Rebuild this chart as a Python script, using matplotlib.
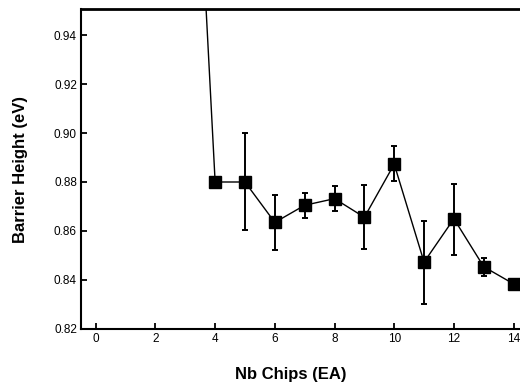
# Barrier height vs number of Nb chips, with error bars

import matplotlib.pyplot as plt

plt.rcParams['font.family'] = ['Liberation Sans', 'DejaVu Sans']

nb_chips = [3, 4, 5, 6, 7, 8, 9, 10, 11, 12, 13, 14]
barrier_height = [1.113, 0.880, 0.880, 0.8635, 0.8705, 0.8732, 0.8656, 0.8873, 0.8473, 0.8650, 0.8454, 0.8384]
err_low = [0.0, 0.0, 0.0195, 0.0113, 0.0052, 0.0049, 0.0128, 0.0068, 0.0172, 0.0149, 0.0038, 0.0]
err_high = [0.0, 0.0, 0.020, 0.0111, 0.0051, 0.0052, 0.0131, 0.0074, 0.0169, 0.0142, 0.0036, 0.0]

x_ticks = [0, 2, 4, 6, 8, 10, 12, 14]
y_ticks = [0.82, 0.84, 0.86, 0.88, 0.90, 0.92, 0.94]

fig = plt.figure(figsize=(5.2, 3.85), dpi=100)
ax = fig.add_axes([0.156, 0.1455, 0.865, 0.831])

ax.errorbar(nb_chips, barrier_height, yerr=[err_low, err_high],
            fmt='s-', color='black', ecolor='black', lw=1.0, elinewidth=1.4,
            capsize=2.5, capthick=1.4, markersize=8.5, markerfacecolor='black')

ax.set_xlim(-0.49, 14.58)
ax.set_ylim(0.82, 0.9506)
ax.set_xticks(x_ticks)
ax.set_yticks(y_ticks)
ax.set_yticklabels([f'{v:.2f}' for v in y_ticks])
ax.tick_params(direction='in', length=4, width=1.3, labelsize=8.5, pad=3)

for side in ['left', 'bottom', 'top']:
    ax.spines[side].set_linewidth(1.5)
ax.spines['top'].set_linewidth(2.0)
ax.spines['right'].set_visible(False)

ax.set_xlabel('Nb Chips (EA)', fontsize=12, fontweight='bold')
ax.xaxis.set_label_coords(0.466, -0.118)
ax.set_ylabel('Barrier Height (eV)', fontsize=12, fontweight='bold')
ax.yaxis.set_label_coords(-0.118, 0.5)

fig.savefig('out.png', dpi=100)
